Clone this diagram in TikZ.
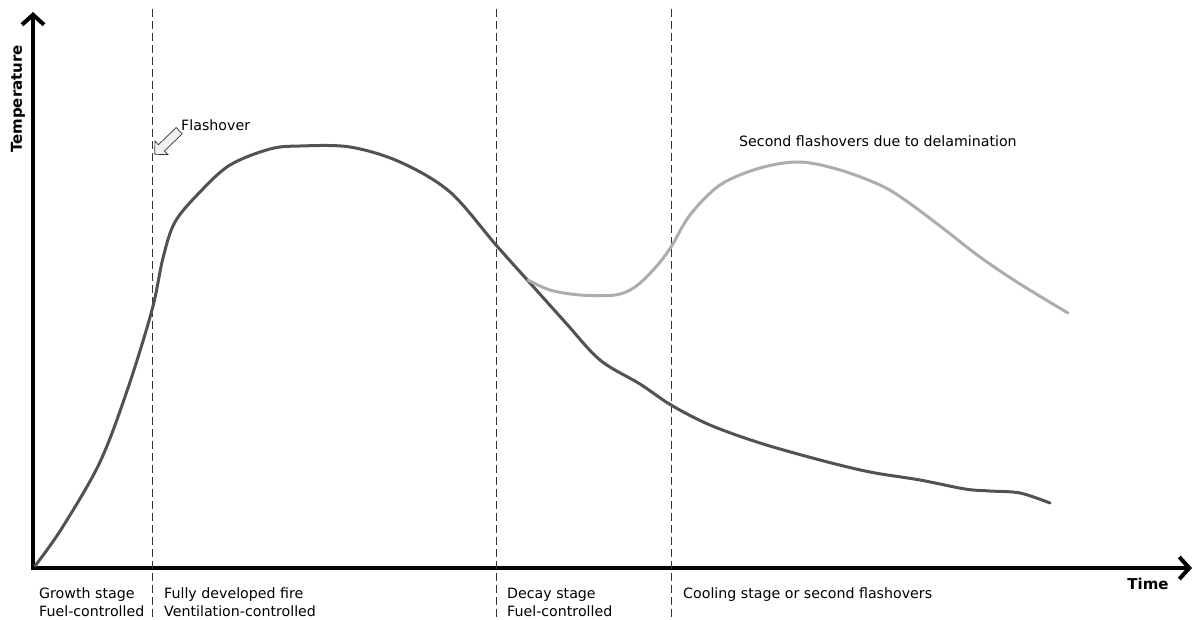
\documentclass[tikz,border=0pt]{standalone}
\usepackage{fontspec}
\setmainfont{DejaVu Sans}
\usetikzlibrary{arrows.meta,shapes.arrows}

\begin{document}
\begin{tikzpicture}[
            x=1pt, y=-1pt,
            every node/.style={font=\fontsize{14.2}{16}\selectfont, inner sep=0pt},
            axis/.style={line width=4pt, -{Straight Barb[length=10pt,width=22pt,line width=4pt]}},
            axislabel/.style={font=\fontsize{15}{17}\selectfont\bfseries},
            stageline/.style={dash pattern=on 8pt off 4pt, line width=0.9pt, black!80},
            stagelabel/.style={anchor=base west, align=left},
            maincurve/.style={line width=3pt, black!68, line cap=round},
            secondcurve/.style={line width=3pt, black!32, line cap=round}]

            \useasboundingbox (0,0) rectangle (1196,619);

            % axes
            \coordinate (origin) at (33,568);
            \coordinate (ytop) at (33,12);
            \coordinate (xend) at (1192,568);
            \draw[axis] ([yshift=2pt]origin) -- (ytop);
            \draw[axis] ([xshift=-2pt]origin) -- (xend);
            \node[axislabel, rotate=90] (templabel) at (18,99) {Temperature};
            \node[axislabel] (timelabel) at (1148,584) {Time};

            % stage borders
            \foreach \x/\n in {152/flash, 496/decay, 671/cool}{
                \draw[stageline] (\x,9) coordinate (\n-top) -- (\x,619) coordinate (\n-bottom);
            }

            % stage names
            \node[stagelabel] (growth) at (39,598) {Growth stage};
            \node[stagelabel] (growthfuel) at (39,616) {Fuel-controlled};
            \node[stagelabel] (fully) at (164,598) {Fully developed fire};
            \node[stagelabel] (fullyvent) at (164,616) {Ventilation-controlled};
            \node[stagelabel] (decaylabel) at (507,598) {Decay stage};
            \node[stagelabel] (decayfuel) at (507,616) {Fuel-controlled};
            \node[stagelabel] (coollabel) at (683,598) {Cooling stage or second flashovers};

            % flashover marker
            \node[stagelabel] (flashlabel) at (181,130) {Flashover};
            \node[single arrow, draw=black!80, fill=black!6, line width=0.7pt, rotate=224,
                  inner sep=4pt, minimum height=34pt, single arrow head extend=5pt,
                  single arrow tip angle=90] (flasharrow) at (168.5,141) {};

            \node[stagelabel] (secondlabel) at (739,146) {Second flashovers due to delamination};

            % temperature curves
            \draw[maincurve] plot[smooth, tension=0.55] coordinates {
                (35,566) (62,528) (100,462) (128,388) (152,310) (163,258) (175,222)
                (200,192) (230,165) (270,149) (300,146) (350,147) (400,162) (450,192)
                (496,245) (530,283) (565,322) (600,360) (640,384) (671,405) (710,425)
                (760,443) (820,460) (870,472) (920,480) (965,489) (990,491) (1020,493)
                (1050,503)};
            \draw[secondcurve] plot[smooth, tension=0.55] coordinates {
                (528,280) (550,290) (580,295) (615,295) (635,287) (655,268) (671,247)
                (690,215) (720,185) (760,168) (800,162) (840,170) (880,185) (905,200)
                (940,226) (980,257) (1020,284) (1068,313)};
        \end{tikzpicture}
\end{document}
